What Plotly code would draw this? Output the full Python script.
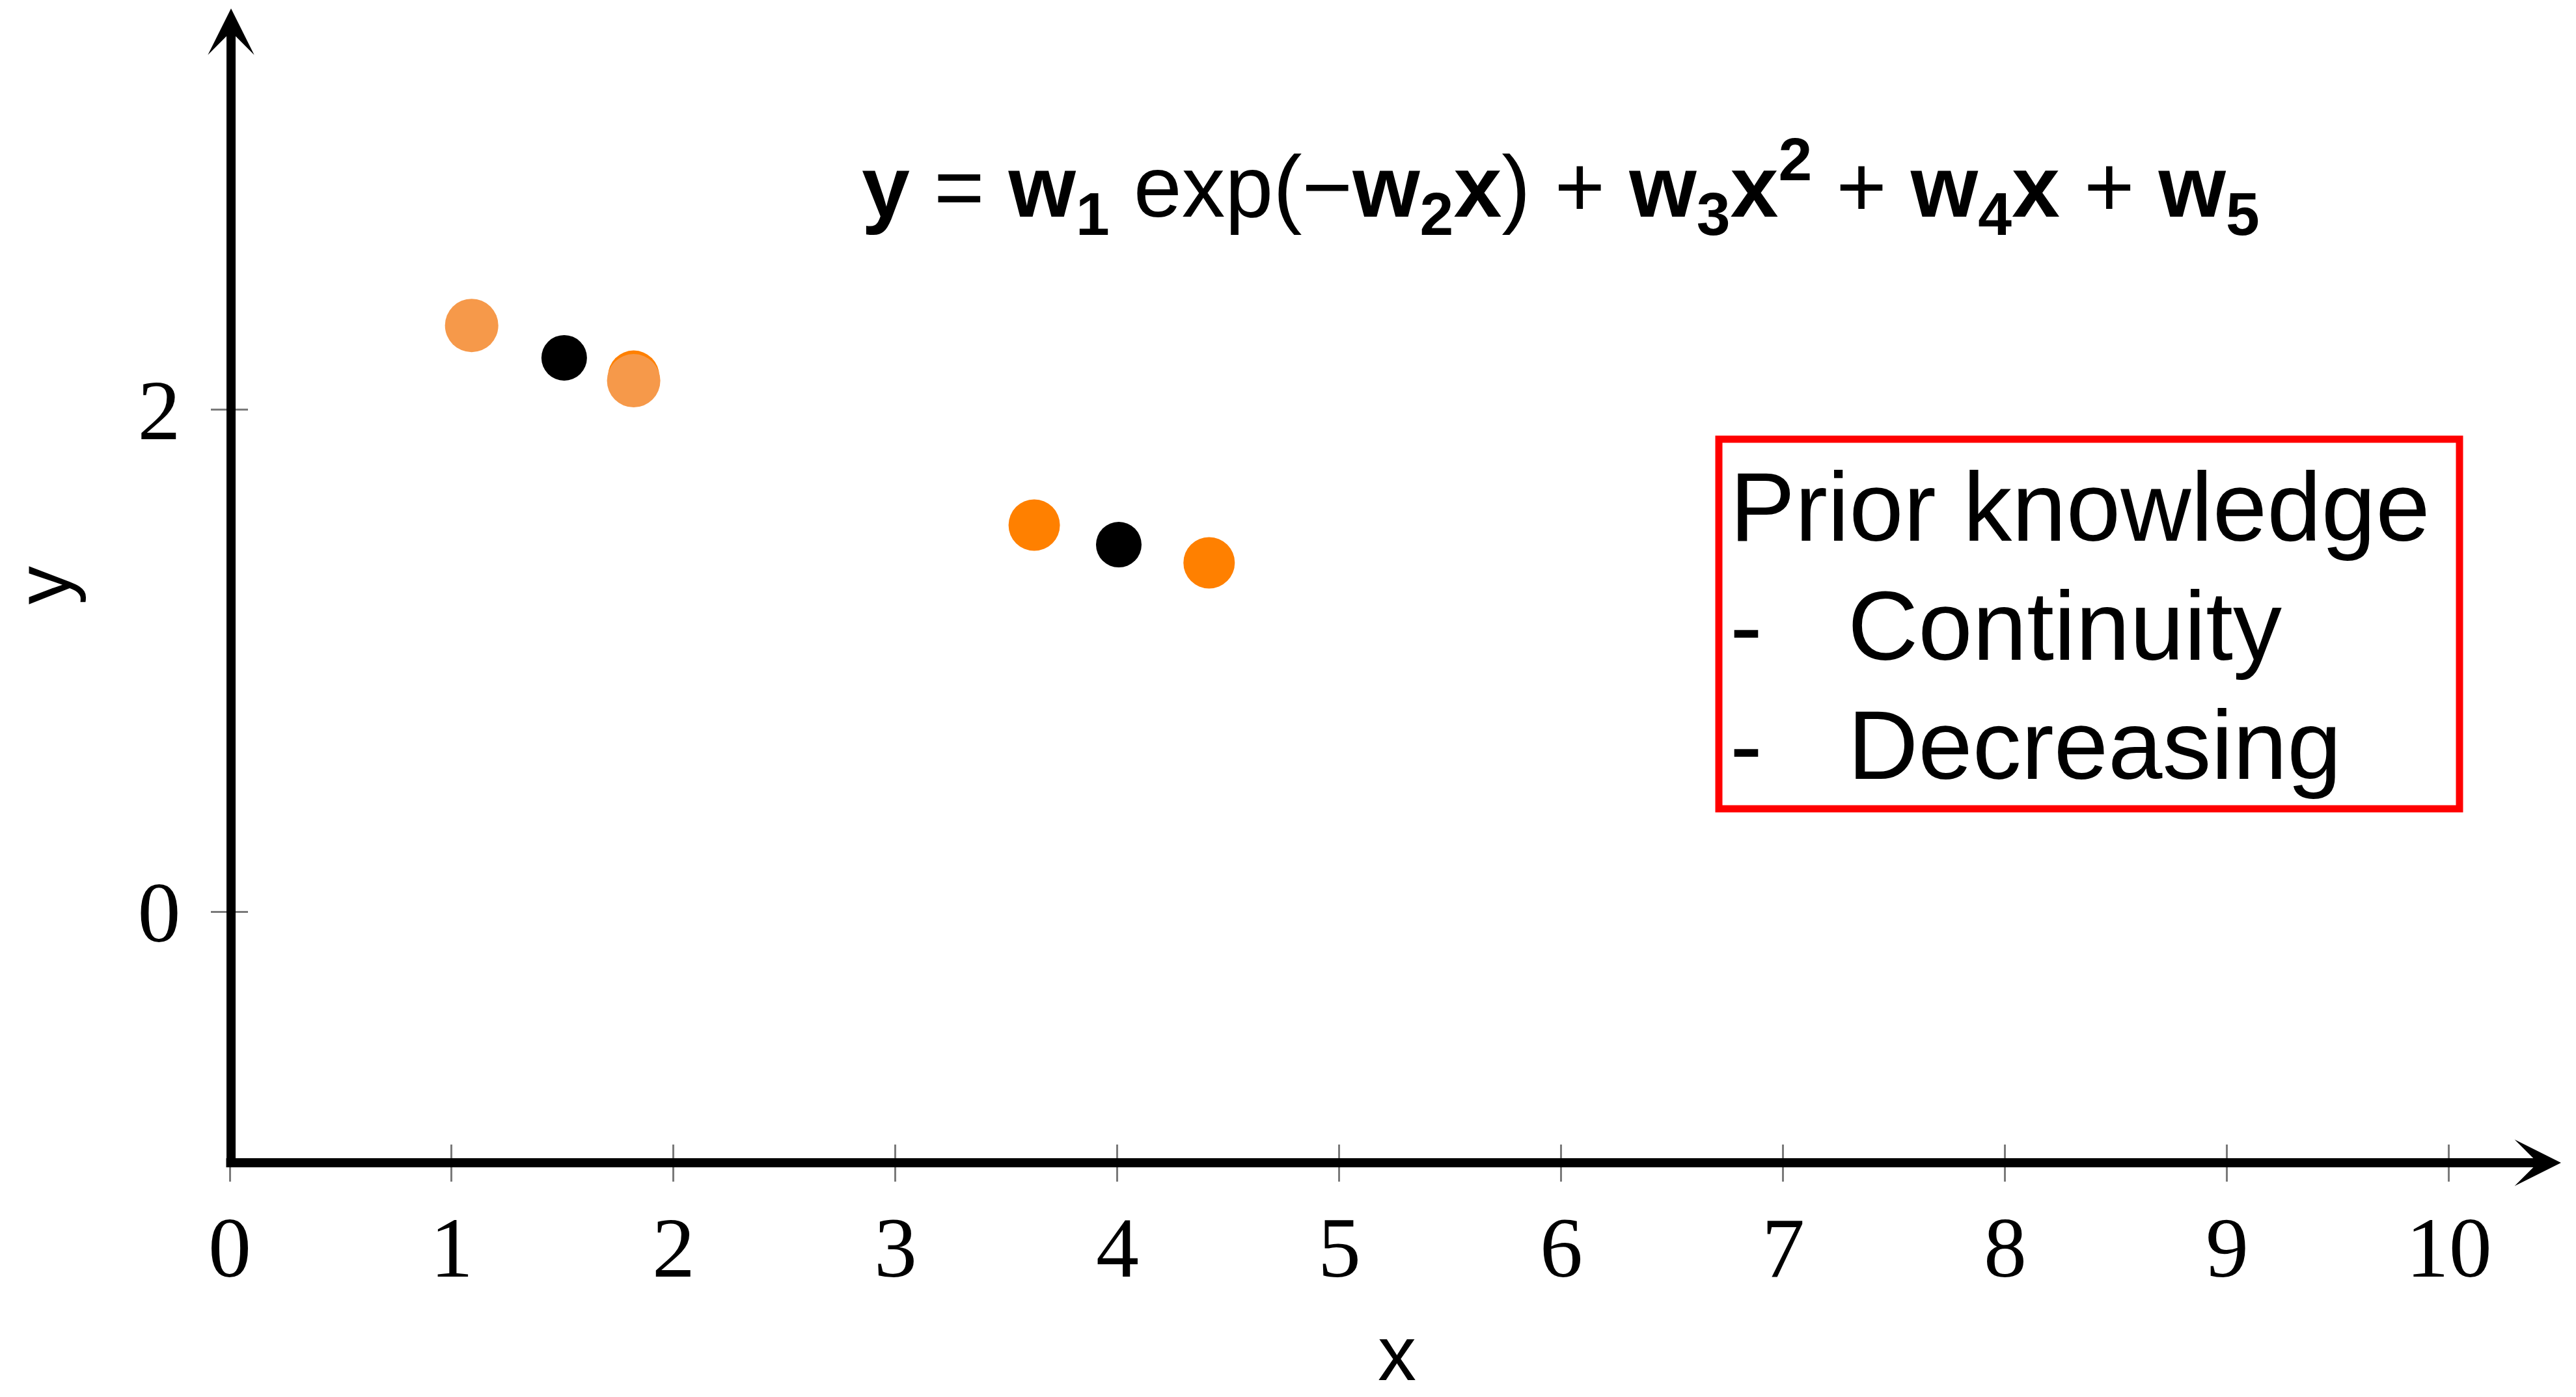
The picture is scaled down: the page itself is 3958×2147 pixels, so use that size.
import plotly.graph_objects as go

# ---- data -------------------------------------------------------------
# observations (light orange), overlapping fitted points (orange) and
# the black query points
light_x = [1.09, 1.82]
light_y = [2.334, 2.114]
orange_x = [1.82, 3.625, 4.413]
orange_y = [2.132, 1.539, 1.389]
black_x = [1.507, 4.006]
black_y = [2.205, 1.461]

x_ticks = [0, 1, 2, 3, 4, 5, 6, 7, 8, 9, 10]
y_ticks = [0, 2]

x_range = [0, 10.496]
y_range = [-1.0, 3.578]

box_lines = ["Prior knowledge", "Continuity", "Decreasing"]

# ---- canvas geometry ---------------------------------------------------
W, H = 3958, 2147
L, R, T, B = 353, 26, 20, 360
PW, PH = W - L - R, H - T - B


def px(xp):
    """pixel column -> paper x"""
    return (xp - L) / PW


def py(yp):
    """pixel row -> paper y"""
    return (H - B - yp) / PH


fig = go.Figure()

fig.add_trace(go.Scatter(
    x=orange_x, y=orange_y, mode="markers",
    marker=dict(size=79, color="#FF8000", line=dict(width=0)),
    showlegend=False, hoverinfo="skip"))
fig.add_trace(go.Scatter(
    x=light_x, y=light_y, mode="markers",
    marker=dict(size=82, color="#F6994A", line=dict(width=0)),
    showlegend=False, hoverinfo="skip"))
fig.add_trace(go.Scatter(
    x=black_x, y=black_y, mode="markers",
    marker=dict(size=70, color="#000000", line=dict(width=0)),
    showlegend=False, hoverinfo="skip"))
# carrier for the overlay axes that draw the inner half of each tick
fig.add_trace(go.Scatter(x=[None], y=[None], xaxis="x2", yaxis="y2",
                         showlegend=False, hoverinfo="skip"))

tick_font = dict(family="Liberation Serif", size=132, color="black")
common = dict(showgrid=False, zeroline=False, showline=False,
              tickwidth=3, tickcolor="#7a7a7a", ticklen=28)

fig.update_layout(
    width=W, height=H, autosize=False,
    margin=dict(l=L, r=R, t=T, b=B, pad=0),
    paper_bgcolor="white", plot_bgcolor="white",
    xaxis=dict(range=x_range, tickmode="array", tickvals=x_ticks,
               ticktext=[str(v) for v in x_ticks], ticks="outside",
               tickfont=tick_font, ticklabelstandoff=-12, **common),
    yaxis=dict(range=y_range, tickmode="array", tickvals=y_ticks,
               ticktext=[str(v) for v in y_ticks], ticks="outside",
               tickfont=tick_font, ticklabelstandoff=20, **common),
    xaxis2=dict(range=x_range, overlaying="x", anchor="y2", side="bottom",
                tickmode="array", tickvals=x_ticks, ticks="inside",
                showticklabels=False, **common),
    yaxis2=dict(range=y_range, overlaying="y", anchor="x2", side="left",
                tickmode="array", tickvals=y_ticks, ticks="inside",
                showticklabels=False, **common),
)

annotations = []

# axis arrows (drawn as annotation arrows so the heads sit at the tips)
annotations.append(dict(
    xref="paper", yref="paper", x=px(355), y=py(13), text="",
    showarrow=True, ax=0, ay=(H - B + 7) - 13, axref="pixel", ayref="pixel",
    arrowhead=3, arrowsize=0.85, arrowwidth=14, arrowcolor="black", standoff=0))
annotations.append(dict(
    xref="paper", yref="paper", x=px(3935), y=py(H - B), text="",
    showarrow=True, ax=-(3935 - (L - 7)), ay=0, axref="pixel", ayref="pixel",
    arrowhead=3, arrowsize=0.85, arrowwidth=14, arrowcolor="black", standoff=0))

# axis titles
title_font = dict(family="Liberation Sans", size=118, color="black")
annotations.append(dict(
    xref="paper", yref="paper", x=px(2146), y=py(2080), text="x",
    showarrow=False, xanchor="center", yanchor="middle", font=title_font))
annotations.append(dict(
    xref="paper", yref="paper", x=px(66), y=py(900), text="y",
    showarrow=False, xanchor="center", yanchor="middle", textangle=-90,
    font=title_font))

# model equation
formula = ("<b>y</b> = <b>w</b><sub><b>1</b></sub> exp(\u2212<b>w</b><sub><b>2</b></sub><b>x</b>)"
           " + <b>w</b><sub><b>3</b></sub><b>x</b><sup><b>2</b></sup>"
           " + <b>w</b><sub><b>4</b></sub><b>x</b> + <b>w</b><sub><b>5</b></sub>")
annotations.append(dict(
    xref="paper", yref="paper", x=px(2398), y=py(287), text=formula,
    showarrow=False, xanchor="center", yanchor="middle",
    font=dict(family="Liberation Sans", size=133, color="black")))

# prior-knowledge box text
box_font = dict(family="Liberation Sans", size=150, color="black")
baselines = [831, 1014, 1197]
annotations.append(dict(
    xref="paper", yref="paper", x=px(2656), y=py(baselines[0] - 52),
    text=box_lines[0], showarrow=False, xanchor="left", yanchor="middle",
    font=box_font))
for line, base in zip(box_lines[1:], baselines[1:]):
    annotations.append(dict(
        xref="paper", yref="paper", x=px(2656), y=py(base - 52),
        text="-", showarrow=False, xanchor="left", yanchor="middle",
        font=box_font))
    annotations.append(dict(
        xref="paper", yref="paper", x=px(2837), y=py(base - 52),
        text=line, showarrow=False, xanchor="left", yanchor="middle",
        font=box_font))

fig.update_layout(annotations=annotations)

fig.add_shape(type="rect", xref="paper", yref="paper",
              x0=px(2641), x1=px(3779), y0=py(1243), y1=py(675),
              line=dict(color="#FF0000", width=11), fillcolor="rgba(0,0,0,0)",
              layer="above")

fig.write_html("out.html")
